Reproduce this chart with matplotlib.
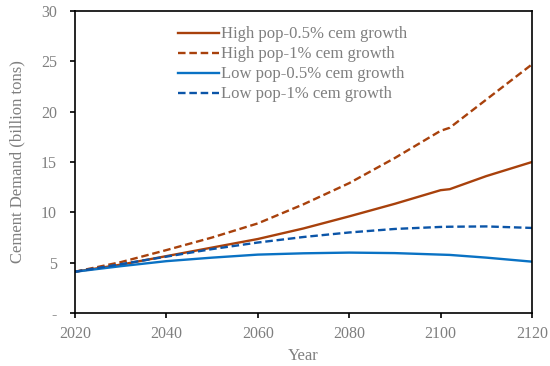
import matplotlib
matplotlib.use('Agg')
import matplotlib.pyplot as plt
from matplotlib.ticker import FuncFormatter

# data (billion tons)
years = [2020, 2030, 2040, 2050, 2060, 2070, 2080, 2090, 2100, 2102, 2110, 2120]
high_05 = [4.1, 4.8, 5.65, 6.5, 7.35, 8.4, 9.6, 10.85, 12.2, 12.3, 13.6, 15.0]
high_1 = [4.1, 5.05, 6.25, 7.5, 8.9, 10.8, 12.9, 15.4, 18.1, 18.4, 21.2, 24.7]
low_05 = [4.1, 4.65, 5.15, 5.5, 5.8, 5.93, 6.0, 5.95, 5.8, 5.77, 5.5, 5.1]
low_1 = [4.1, 4.85, 5.6, 6.35, 7.0, 7.55, 8.0, 8.35, 8.55, 8.57, 8.6, 8.45]

labels = ['High pop-0.5% cem growth', 'High pop-1% cem growth',
          'Low pop-0.5% cem growth', 'Low pop-1% cem growth']

brown = '#A8410C'
blue = '#0A72C4'
dblue = '#0B55A8'
grey = '#7F7F7F'

plt.rcParams['font.family'] = ['Liberation Serif', 'DejaVu Serif']

fig = plt.figure(figsize=(5.5, 3.66), dpi=100)
ax = fig.add_axes([75 / 550, 1 - 313 / 366, (532 - 75) / 550, (313 - 11) / 366])

dash = (3.2, 1.6)
ax.plot(years, high_05, color=brown, lw=1.7, label=labels[0])
ax.plot(years, high_1, color=brown, lw=1.7, ls=(0, dash), label=labels[1])
ax.plot(years, low_05, color=blue, lw=1.7, label=labels[2])
ax.plot(years, low_1, color=dblue, lw=1.7, ls=(0, dash), label=labels[3])

ax.set_xlim(2020, 2120)
ax.set_ylim(0, 30)
ax.set_xticks(range(2020, 2121, 20))
ax.set_yticks(range(0, 31, 5))
ax.yaxis.set_major_formatter(FuncFormatter(lambda v, p: '-' if v == 0 else f'{int(v)}'))

for s in ax.spines.values():
    s.set_color('black')
    s.set_linewidth(1.2)
ax.tick_params(axis='both', direction='out', length=3.6, width=1.2, color='black',
               labelcolor=grey, labelsize=11.5)
ax.tick_params(axis='x', pad=6)
ax.tick_params(axis='y', pad=9.5)

ax.set_xlabel('Year', color=grey, fontsize=12, labelpad=4)
ax.set_ylabel('Cement Demand (billion tons)', color=grey, fontsize=12, labelpad=11)

leg = ax.legend(loc='upper left', bbox_to_anchor=(0.225, 0.949), frameon=False,
                fontsize=12, handlelength=2.5, handletextpad=0.1,
                labelspacing=0.24, borderaxespad=0, borderpad=0)
for t in leg.get_texts():
    t.set_color(grey)

fig.savefig('out.png', dpi=100)
